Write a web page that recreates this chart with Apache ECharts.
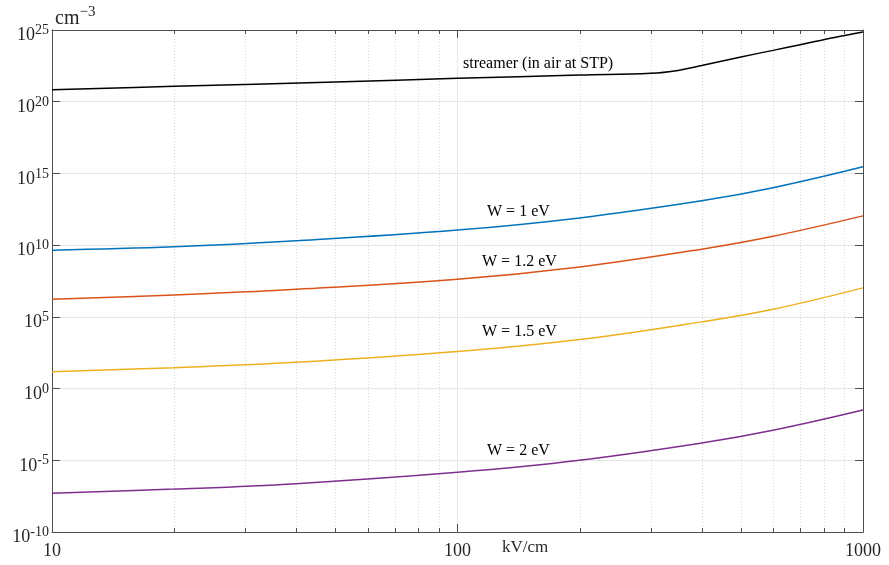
<!DOCTYPE html>
<html>
<head>
<meta charset="utf-8">
<script src="https://cdn.jsdelivr.net/npm/echarts@6/dist/echarts.min.js"></script>
<style>
  html, body { margin: 0; padding: 0; background: #fff; }
  #chart { width: 889px; height: 565px; }
</style>
</head>
<body>
<div id="chart"></div>
<script>
// Field strength (kV/cm) sample points
const fieldStreamer = [10, 20, 50, 100, 200, 300, 350, 400, 500, 600, 700, 850, 1000];
const fieldW = [10, 20, 40, 100, 200, 400, 600, 1000];

// log10 of density (cm^-3)
const logStreamer = [20.83, 21.07, 21.38, 21.63, 21.86, 21.98, 22.18, 22.52, 23.12, 23.58, 23.97, 24.48, 24.86];
const logW1  = [9.65, 9.88, 10.30, 11.05, 11.90, 13.09, 14.00, 15.46];
const logW12 = [6.23, 6.53, 6.93, 7.62, 8.48, 9.72, 10.62, 12.04];
const logW15 = [1.18, 1.46, 1.83, 2.58, 3.42, 4.65, 5.53, 7.02];
const logW2  = [-7.29, -7.01, -6.63, -5.84, -5.00, -3.80, -2.91, -1.50];

// Axis settings
const xMin = 10, xMax = 1000;
const yExpMin = -10, yExpMax = 25, yExpStep = 5;
const minorX = [20, 30, 40, 50, 60, 70, 80, 90, 200, 300, 400, 500, 600, 700, 800, 900];

const serif = 'Liberation Serif';
const axisColor = '#4d4d4d';
const textColor = '#262626';

function pairs(xs, ys) { return xs.map((x, i) => [x, ys[i]]); }

const chart = echarts.init(document.getElementById('chart'), null, { renderer: 'canvas' });

const lineSeries = (name, xs, ys, color) => ({
  name, type: 'line', data: pairs(xs, ys), showSymbol: false, smooth: 0.4,
  lineStyle: { color, width: 1.5 }, z: 5, silent: true
});

const boxAxisLine = { show: true, onZero: false, lineStyle: { color: axisColor, width: 1 } };
const inTick = { show: true, inside: true, length: 8, lineStyle: { color: axisColor } };

chart.setOption({
  animation: false,
  backgroundColor: '#fff',
  grid: { left: 52, right: 26, top: 30, bottom: 33, containLabel: false },
  xAxis: [{
    type: 'log', logBase: 10, min: xMin, max: xMax, position: 'bottom',
    axisLine: boxAxisLine, axisTick: inTick,
    axisLabel: { color: textColor, fontFamily: serif, fontSize: 18, margin: 10, formatter: v => String(Math.round(v)) },
    splitLine: { show: true, lineStyle: { color: '#e6e6e6', width: 1 } },
    minorTick: { show: false }, minorSplitLine: { show: false }
  }, {
    type: 'log', logBase: 10, min: xMin, max: xMax, position: 'top',
    axisLine: boxAxisLine, axisTick: inTick,
    axisLabel: { show: false }, splitLine: { show: false }
  }],
  yAxis: [{
    type: 'value', min: yExpMin, max: yExpMax, interval: yExpStep, position: 'left',
    axisLine: boxAxisLine, axisTick: inTick,
    axisLabel: {
      margin: 3,
      padding: [8, 0, 0, 0],
      formatter: v => '{b|10}{s|' + v + '}',
      rich: {
        b: { fontFamily: serif, fontSize: 18, color: textColor, verticalAlign: 'bottom', padding: [3, 0, 0, 0] },
        s: { fontFamily: serif, fontSize: 14, color: textColor, verticalAlign: 'top' }
      }
    },
    splitLine: { show: true, lineStyle: { color: '#e6e6e6', width: 1 } }
  }, {
    type: 'value', min: yExpMin, max: yExpMax, interval: yExpStep, position: 'right',
    axisLine: boxAxisLine, axisTick: inTick,
    axisLabel: { show: false }, splitLine: { show: false }
  }],
  series: [
    {
      // minor x grid lines and ticks at 2..9 of each decade
      type: 'custom', silent: true, z: 1,
      data: minorX.map(v => [v, yExpMin]),
      encode: { x: 0, y: 1 },
      renderItem(params, api) {
        const v = api.value(0);
        const bot = api.coord([v, yExpMin]);
        const top = api.coord([v, yExpMax]);
        const x = Math.round(bot[0]) + 0.5;
        return {
          type: 'group', children: [
            { type: 'line', shape: { x1: x, y1: top[1], x2: x, y2: bot[1] },
              style: { stroke: '#d9d9d9', lineWidth: 1, lineDash: [1, 2] } },
            { type: 'line', shape: { x1: x, y1: bot[1], x2: x, y2: bot[1] - 4 },
              style: { stroke: axisColor, lineWidth: 1 } },
            { type: 'line', shape: { x1: x, y1: top[1], x2: x, y2: top[1] + 4 },
              style: { stroke: axisColor, lineWidth: 1 } }
          ]
        };
      }
    },
    lineSeries('streamer', fieldStreamer, logStreamer, '#000000'),
    lineSeries('W = 1 eV', fieldW, logW1, '#0072BD'),
    lineSeries('W = 1.2 eV', fieldW, logW12, '#D95319'),
    lineSeries('W = 1.5 eV', fieldW, logW15, '#EDB120'),
    lineSeries('W = 2 eV', fieldW, logW2, '#7E2F8E')
  ],
  graphic: [
    { type: 'text', left: 55, top: 5, style: {
        text: '{b|cm}{s|\u22123}',
        rich: {
          b: { fontFamily: serif, fontSize: 20, fill: textColor, verticalAlign: 'bottom', padding: [4, 0, 0, 0] },
          s: { fontFamily: serif, fontSize: 15, fill: textColor, verticalAlign: 'top' }
        } } },
    { type: 'text', left: 502, top: 539, style: { text: 'kV/cm', fontFamily: serif, fontSize: 17, fill: textColor } },
    { type: 'text', left: 463, top: 56, style: { text: 'streamer (in air at STP)', fontFamily: serif, fontSize: 16, fill: '#000' } },
    { type: 'text', left: 487, top: 204, style: { text: 'W = 1 eV', fontFamily: serif, fontSize: 16, fill: '#000' } },
    { type: 'text', left: 482, top: 254, style: { text: 'W = 1.2 eV', fontFamily: serif, fontSize: 16, fill: '#000' } },
    { type: 'text', left: 482, top: 324, style: { text: 'W = 1.5 eV', fontFamily: serif, fontSize: 16, fill: '#000' } },
    { type: 'text', left: 487, top: 443, style: { text: 'W = 2 eV', fontFamily: serif, fontSize: 16, fill: '#000' } }
  ]
});
</script>
</body>
</html>
